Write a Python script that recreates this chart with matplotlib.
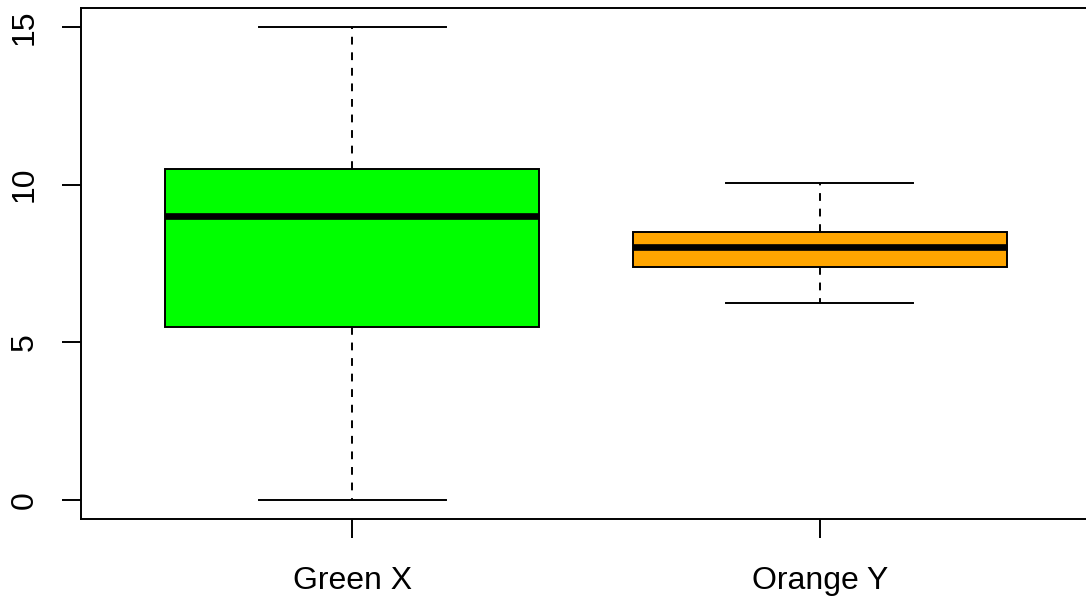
import matplotlib
matplotlib.use("Agg")
import matplotlib.pyplot as plt

plt.rcParams['font.family'] = ['Liberation Sans', 'DejaVu Sans']

# Group labels and five-number summaries
labels = ["Green X", "Orange Y"]
whisker_low = [0.0, 6.26]
q1 = [5.5, 7.4]
median = [9.0, 8.02]
q3 = [10.5, 8.5]
whisker_high = [15.0, 10.05]
fill_colors = ["#00ff00", "#ffa500"]
y_ticks = [0, 5, 10, 15]

W, H = 1086, 601
fig = plt.figure(figsize=(W / 100, H / 100), dpi=100)
left, right, top, bottom = 81, 1091, 8, 519
ax = fig.add_axes([left / W, 1 - bottom / H, (right - left) / W, (bottom - top) / H])

stats = [
    dict(label=lab, whislo=lo, q1=a, med=m, q3=b, whishi=hi, fliers=[])
    for lab, lo, a, m, b, hi in zip(labels, whisker_low, q1, median, q3, whisker_high)
]
positions = list(range(1, len(labels) + 1))
bp = ax.bxp(
    stats, positions=positions, widths=0.8, patch_artist=True,
    boxprops=dict(linewidth=1.4, edgecolor="black"),
    medianprops=dict(color="black", linewidth=4.8, solid_capstyle="butt"),
    whiskerprops=dict(color="black", linewidth=1.4, linestyle=(0, (4.0, 4.0))),
    capprops=dict(color="black", linewidth=1.4),
    capwidths=0.4,
)
for patch, c in zip(bp["boxes"], fill_colors):
    patch.set_facecolor(c)

ax.set_xlim(0.42, 2.58)
ax.set_ylim(-0.6, 15.6)
ax.set_xticks(positions)
ax.set_xticklabels(labels)
ax.set_yticks(y_ticks)
ax.set_yticklabels([str(t) for t in y_ticks], rotation=90, va="center")
ax.tick_params(axis="both", length=13.5, width=1.4, labelsize=23)
ax.tick_params(axis="x", pad=20.5)
ax.tick_params(axis="y", pad=16)
for s in ax.spines.values():
    s.set_linewidth(1.4)

fig.savefig("out.png", dpi=100)
